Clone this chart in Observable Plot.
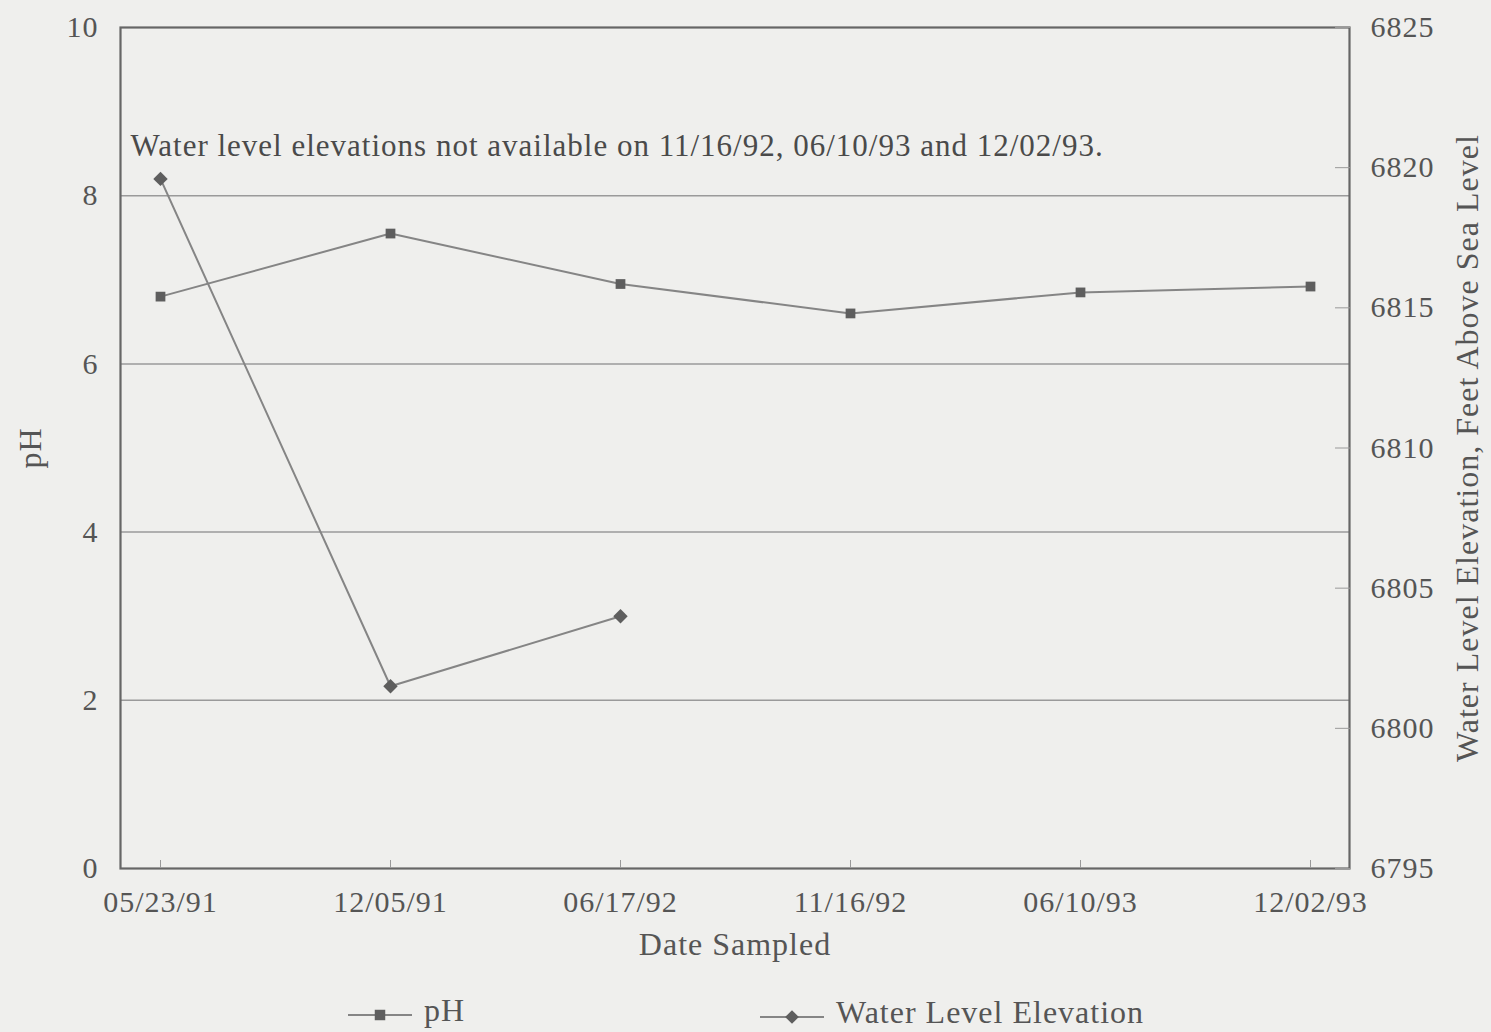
<!DOCTYPE html>
<html>
<head>
<meta charset="utf-8">
<script src="https://cdn.jsdelivr.net/npm/d3@7"></script>
<script src="https://cdn.jsdelivr.net/npm/@observablehq/plot@0.6"></script>
<style>
  html, body { margin: 0; padding: 0; background: #efefed; }
  #wrap { position: relative; width: 1491px; height: 1032px; background: #efefed; font-family: "Liberation Serif", "Times New Roman", serif; color: #555; }
  #legend { position: absolute; left: 0; top: 975px; width: 1491px; height: 57px; }
  .item { position: absolute; top: 0; display: flex; align-items: center; font-size: 32px; letter-spacing: 1px; height: 50px; }
  .item svg { margin-right: 10px; }
</style>
</head>
<body>
<div id="wrap">
  <div id="chart"></div>
  <div id="legend"></div>
</div>
<script>
const dates = ["05/23/91", "12/05/91", "06/17/92", "11/16/92", "06/10/93", "12/02/93"];
const phValues = [6.8, 7.55, 6.95, 6.6, 6.85, 6.92];
const waterDates = ["05/23/91", "12/05/91", "06/17/92"];
const waterValues = [6819.6, 6801.5, 6804.0];
const phTicks = [0, 2, 4, 6, 8, 10];
const gridTicks = [2, 4, 6, 8];
const elevTicks = [6795, 6800, 6805, 6810, 6815, 6820, 6825];
const note = "Water level elevations not available on 11/16/92, 06/10/93 and 12/02/93.";
const seriesNames = ["pH", "Water Level Elevation"];

const elevMin = 6795, elevMax = 6825, phMin = 0, phMax = 10;
const toPh = e => phMin + (e - elevMin) * (phMax - phMin) / (elevMax - elevMin);
const fromPh = v => String(Math.round(elevMin + (v - phMin) * (elevMax - elevMin) / (phMax - phMin)));

const phData = dates.map((d, i) => ({date: d, value: phValues[i]}));
const waterData = waterDates.map((d, i) => ({date: d, value: waterValues[i]}));

const lineColor = "#858585";
const dotColor = "#5e5e5e";

const chart = Plot.plot({
  width: 1491,
  height: 975,
  marginLeft: 120,
  marginRight: 142,
  marginTop: 27,
  marginBottom: 107,
  style: {fontFamily: "Liberation Serif, Times New Roman, serif", fontSize: "30px", letterSpacing: "1px", color: "#555", background: "#efefed"},
  x: {type: "point", domain: dates, padding: 0.17},
  y: {domain: [phMin, phMax]},
  marks: [
    Plot.ruleY(gridTicks, {stroke: "#9a9a9a", strokeWidth: 1.5}),
    Plot.frame({stroke: "#666", strokeWidth: 2.2}),
    Plot.axisX({tickSize: -8, tickPadding: 30, label: "Date Sampled", labelAnchor: "center", labelOffset: 86, labelArrow: "none", stroke: "#999"}),
    Plot.axisY({ticks: phTicks, tickSize: 0, tickPadding: 22, label: "pH", labelAnchor: "center", labelOffset: 102, labelArrow: "none"}),
    Plot.axisY({anchor: "right", ticks: elevTicks.map(toPh), tickFormat: fromPh, tickSize: -15, tickPadding: 36,
      label: "Water Level Elevation, Feet Above Sea Level", labelAnchor: "center", labelOffset: 128, labelArrow: "none", stroke: "#999"}),
    Plot.text([note], {frameAnchor: "top-left", dx: 10, dy: 106, textAnchor: "start", fontSize: 31, fill: "#4a4a4a"}),
    Plot.line(phData, {x: "date", y: "value", stroke: lineColor, strokeWidth: 2}),
    Plot.dot(phData, {x: "date", y: "value", symbol: "square", r: 5.5, fill: dotColor, stroke: "none"}),
    Plot.line(waterData, {x: "date", y: d => toPh(d.value), stroke: lineColor, strokeWidth: 2}),
    Plot.dot(waterData, {x: "date", y: d => toPh(d.value), symbol: "diamond2", r: 6.5, fill: dotColor, stroke: "none"})
  ]
});
// larger axis titles
chart.querySelectorAll('g[aria-label$="axis label"]').forEach(g => g.setAttribute("font-size", "32"));
document.getElementById("chart").appendChild(chart);

// legend
const legend = document.getElementById("legend");
const items = [
  {name: seriesNames[0], left: 348, symbol: d3.symbolSquare, size: 110},
  {name: seriesNames[1], left: 760, symbol: d3.symbolDiamond2, size: 120}
];
items.forEach((it, i) => {
  const div = document.createElement("div");
  div.className = "item";
  div.style.left = it.left + "px";
  div.style.top = (i === 0 ? 10 : 12) + "px";
  const svg = d3.create("svg").attr("width", 66).attr("height", 30);
  svg.append("line").attr("x1", 0).attr("x2", 64).attr("y1", 20).attr("y2", 20).attr("stroke", lineColor).attr("stroke-width", 2);
  svg.append("path").attr("d", d3.symbol(it.symbol, it.size)()).attr("transform", "translate(32,20)").attr("fill", dotColor);
  div.appendChild(svg.node());
  const span = document.createElement("span");
  span.textContent = it.name;
  div.appendChild(span);
  legend.appendChild(div);
});
</script>
</body>
</html>
